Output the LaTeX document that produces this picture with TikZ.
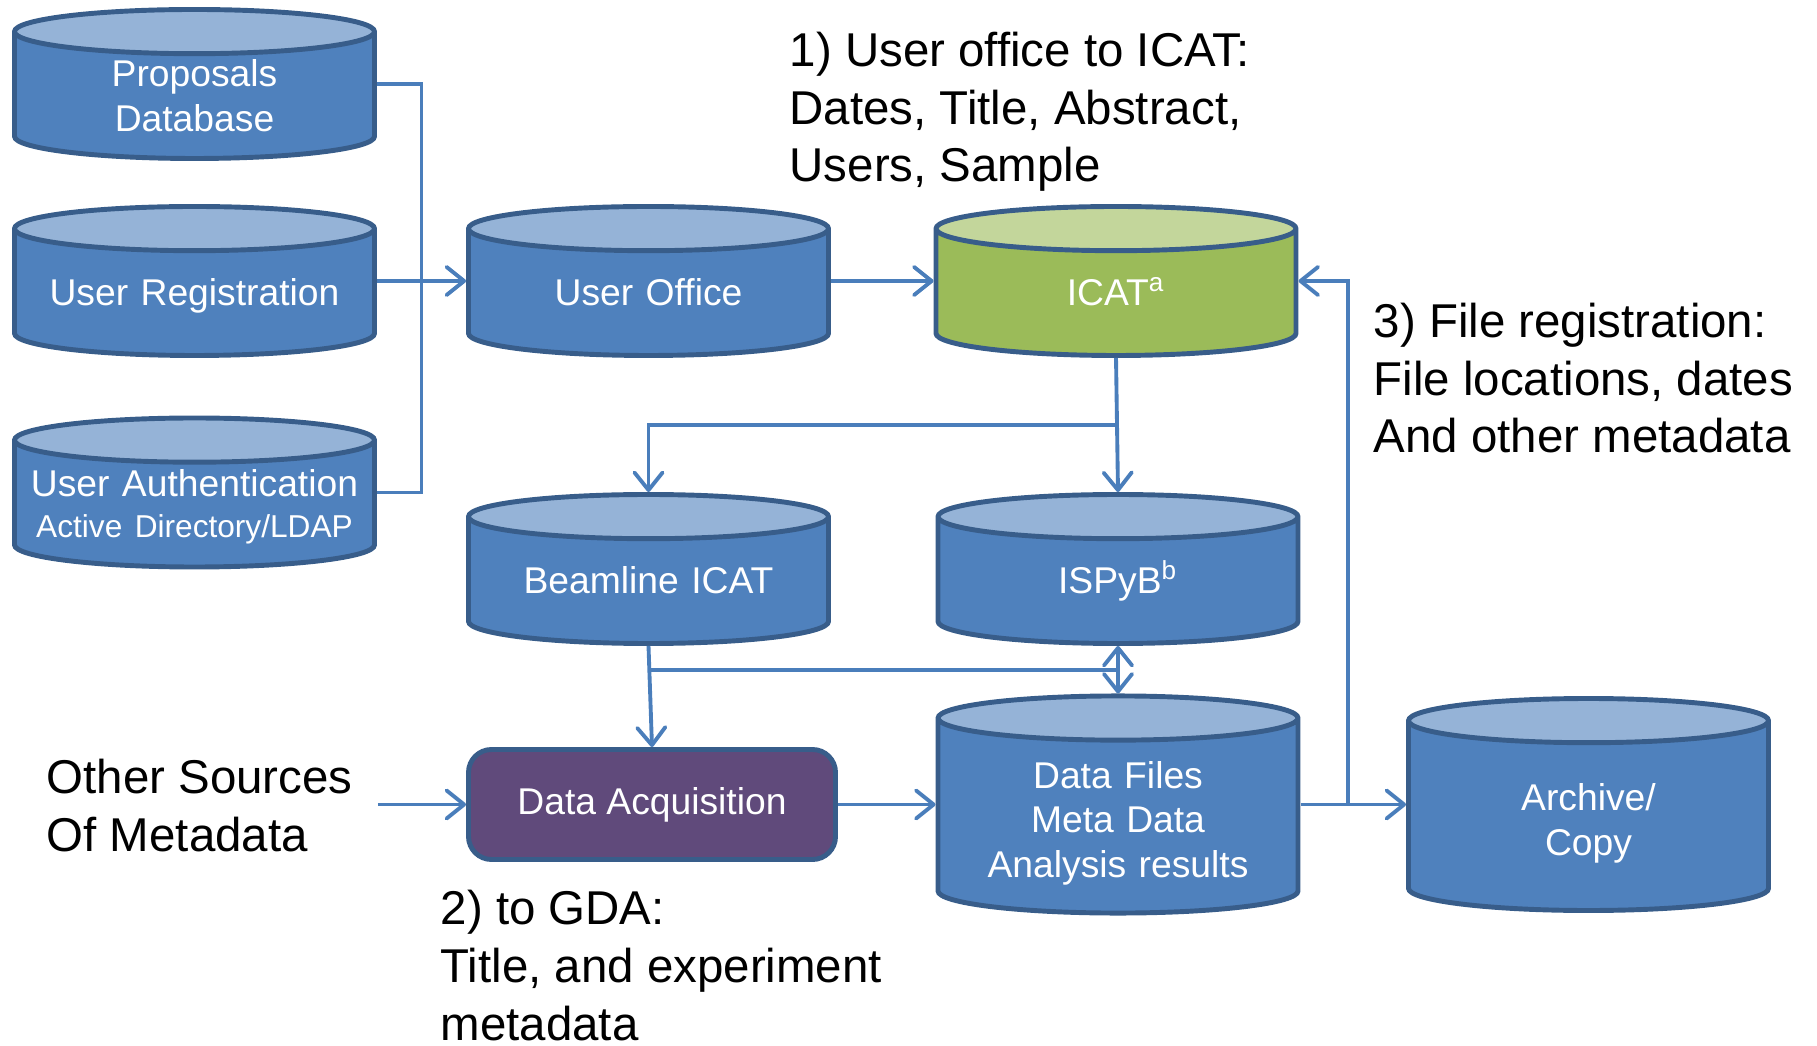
\documentclass[tikz,border=0pt]{standalone}
\usepackage{fontspec}
\setmainfont{Liberation Sans}
\usetikzlibrary{shapes.geometric, arrows.meta, calc}

\definecolor{dbblue}{HTML}{4F81BD}
\definecolor{dbtop}{HTML}{95B3D7}
\definecolor{dbline}{HTML}{385D8A}
\definecolor{icatgreen}{HTML}{9BBB59}
\definecolor{icattop}{HTML}{C3D69B}
\definecolor{daqpurple}{HTML}{604A7B}
\definecolor{wireblue}{HTML}{4A7EBB}

\tikzset{
  >={Straight Barb[length=5pt, width=8pt, round]},
  db/.style = {cylinder, shape border rotate=90, aspect=0.13, anchor=shape center,
    draw=dbline, line width=1.4pt, cylinder uses custom fill,
    cylinder body fill=dbblue, cylinder end fill=dbtop,
    minimum width=3.6cm, minimum height=1.49cm, inner sep=0pt, text width=3.4cm,
    text=white, align=center, font=\fontsize{10.6}{12.7}\selectfont,
    execute at begin node={\rule{0pt}{11pt}}, execute at end node=\strut},
  pair/.style = {inner ysep=-2.5pt},
  tall/.style = {minimum height=2.12cm, execute at begin node={\rule{0pt}{13pt}}},
  wire/.style = {draw=wireblue, line width=1.1pt},
  link/.style = {wire, ->},
  note/.style = {align=left, anchor=base west, inner sep=0pt,
    font=\fontsize{13.5}{16.4}\selectfont}
}

\begin{document}
\begin{tikzpicture}
    \useasboundingbox (0,0) rectangle (18.17,10.45);
    % sources of user information
    \node[db, pair] (prop) at (1.945,9.61) {Proposals\\Database};
    \node[db] (reg) at (1.945,7.64) {User Registration};
    \node[db, pair] (auth) at (1.945,5.525) {User Authentication\\[-1pt]{\fontsize{9}{11}\selectfont Active Directory/LDAP}};
    \node[db] (office) at (6.485,7.64) {User Office};
    \node[db, cylinder body fill=icatgreen, cylinder end fill=icattop] (icat) at (11.16,7.64) {ICAT\smash{\textsuperscript{a}}};
    \node[db] (beam) at (6.485,4.76) {Beamline ICAT};
    \node[db] (ispyb) at (11.18,4.76) {ISPyB\smash{\textsuperscript{b}}};
    \node[db, tall] (files) at (11.18,2.405) {Data Files\\Meta Data\\Analysis results};
    \node[db, tall] (archive) at (15.885,2.405) {Archive/\\Copy};
    \node[draw=dbline, line width=1.4pt, fill=daqpurple, rounded corners=0.23cm,
        minimum width=3.67cm, minimum height=1.1cm, text=white,
        font=\fontsize{10.6}{12.7}\selectfont] (daq) at (6.52,2.405) {Data Acquisition};

    % notes
    \node[note] (step1) at (7.89,8.63) {1) User office to ICAT:\\Dates, Title, Abstract,\\Users, Sample};
    \node[note] (step3) at (13.73,5.92) {3) File registration:\\File locations, dates\\And other metadata};
    \node[note] (other) at (0.46,1.94) {Other Sources\\Of Metadata};
    \node[note] (step2) at (4.40,0.05) {2) to GDA:\\Title, and experiment\\metadata};

    % connectors
    \coordinate (bus) at ($(reg.east)!0.5!(office.west)$);
    \draw[wire] (prop.shape center -| prop.east) -| (bus) |- (auth.shape center -| auth.east);
    \draw[link] (reg.shape center -| reg.east) -- (office.shape center -| office.west);
    \draw[link] (office.shape center -| office.east) -- (icat.shape center -| icat.west);
    \draw[link] (icat.bottom) -- (ispyb.top);
    \coordinate (split) at ($(icat.bottom)!0.5!(icat.bottom |- beam.top)$);
    \draw[link] (split) -| (beam.top);
    \draw[link] (beam.bottom) -- (daq.north);
    \draw[wire, <->] (ispyb.bottom) -- (files.top);
    \coordinate (tap) at ($(ispyb.bottom)!0.5!(files.top)$);
    \draw[wire] (tap) -- (tap -| beam.bottom);
    \draw[link, shorten <=7pt] (other.east |- daq.west) -- (daq.west);
    \draw[link] (daq.east) -- (files.shape center -| files.west);
    \draw[link] (files.shape center -| files.east) -- (archive.shape center -| archive.west);
    \coordinate (riser) at ($(files.east)!0.45!(archive.west)$);
    \draw[link] (riser |- files.shape center) |- (icat.shape center -| icat.east);
\end{tikzpicture}
\end{document}
